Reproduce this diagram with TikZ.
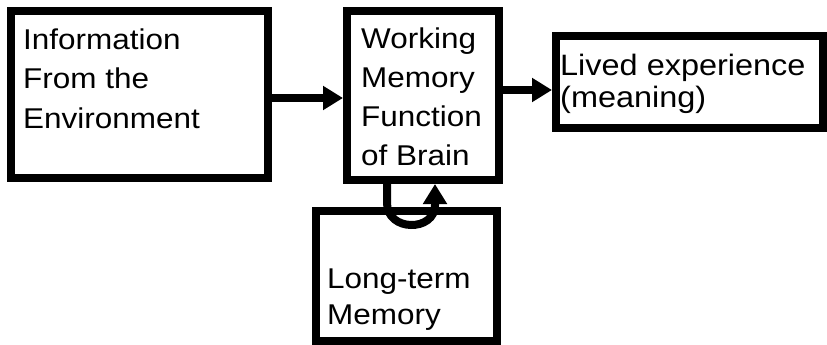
\documentclass[tikz,border=0pt]{standalone}
\usepackage{fontspec}
\setmainfont{Liberation Sans}[FakeStretch=1.1]
\usetikzlibrary{arrows.meta}

\begin{document}
\begin{tikzpicture}[x=1pt, y=-1pt,
    box/.style={draw, line width=8pt, inner sep=0pt},
    txt/.style={anchor=base west, inner sep=0pt, align=left, font=\fontsize{28.6}{39}\selectfont},
    flow/.style={line width=8.5pt, -{Triangle[length=20pt, width=23pt]}}]
    \useasboundingbox (0, 0) rectangle (827, 345);

    \node [box, minimum width=257, minimum height=167] (info) at (139.5, 94.5) {};
    \node [box, minimum width=152, minimum height=169] (wm) at (423, 95.5) {};
    \node [box, minimum width=267, minimum height=92] (lived) at (689.5, 82) {};
    \node [box, minimum width=181, minimum height=130] (ltm) at (406.5, 276) {};

    % base anchor sits on the last line
    \node [txt] (infotext) at (23, 128) {Information\\From the\\Environment};
    \node [txt] (wmtext) at (361, 165) {Working\\Memory\\Function\\of Brain};
    \node [txt, font=\fontsize{29.5}{32}\selectfont] (livedtext) at (560, 107) {Lived experience\\(meaning)};
    \node [txt, font=\fontsize{28.6}{36}\selectfont] (ltmtext) at (327, 324) {Long-term\\Memory};

    \coordinate (in) at (0, 98);
    \coordinate (out) at (0, 90);
    \draw [flow] (info.east |- in) -- (wm.west |- in);
    \draw [flow] (wm.east |- out) -- (lived.west |- out);
    \draw [flow, line width=8pt] ([xshift=-36pt]wm.south) -- ++(0, 19) .. controls ++(0, 29) and ++(0, 27) .. ([xshift=12pt, yshift=-21pt]wm.south) -- ([xshift=12pt]wm.south);
\end{tikzpicture}
\end{document}
